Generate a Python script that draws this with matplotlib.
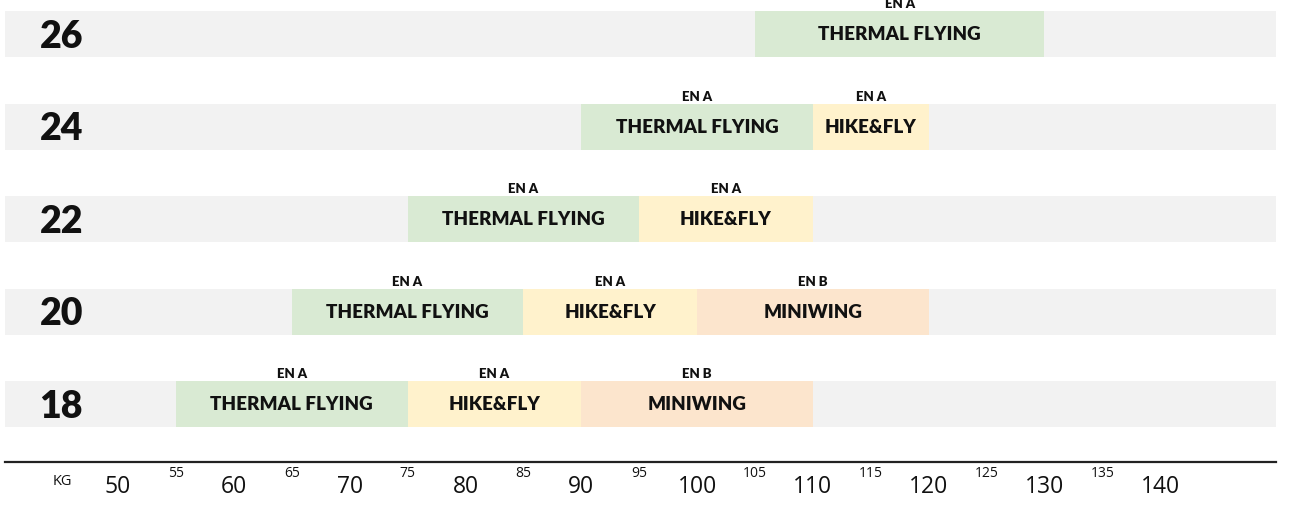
import matplotlib
matplotlib.use("Agg")
import matplotlib.pyplot as plt
from matplotlib.ticker import FixedLocator, FixedFormatter

# ---- data ----
sizes = ["18", "20", "22", "24", "26"]

thermal_start = [55, 65, 75, 90, 105]
thermal_end = [75, 85, 95, 110, 130]
thermal_rating = ["EN A", "EN A", "EN A", "EN A", "EN A"]

hike_rows = [0, 1, 2, 3]
hike_start = [75, 85, 95, 110]
hike_end = [90, 100, 110, 120]
hike_rating = ["EN A", "EN A", "EN A", "EN A"]

mini_rows = [0, 1]
mini_start = [90, 100]
mini_end = [110, 120]
mini_rating = ["EN B", "EN B"]

major_ticks = [50, 60, 70, 80, 90, 100, 110, 120, 130, 140]
minor_ticks = [55, 65, 75, 85, 95, 105, 115, 125, 135]
axis_unit = "KG"
range_min, range_max = 40.25, 150

# ---- style ----
GREY = "#f2f2f2"
GREEN = "#d9ead3"
YELLOW = "#fff2cc"
ORANGE = "#fce5cd"
INK = "#111111"
BOLD = ["Lato", "DejaVu Sans"]
REG = ["Open Sans", "DejaVu Sans"]

fig = plt.figure(figsize=(12.9, 5.17), dpi=100)
ax = fig.add_axes([0, 0, 1, 1])
ax.set_xlim(39.81, 151.2)
ax.set_ylim(-1.2216, 4.368)
ax.set_facecolor("white")

bar_h = 0.497
rows = list(range(len(sizes)))

# background bars
ax.barh(rows, [range_max - range_min] * len(rows), left=range_min,
        height=bar_h, color=GREY, linewidth=0, zorder=1)

def draw_group(rws, starts, ends, ratings, color, label):
    widths = [e - s for s, e in zip(starts, ends)]
    ax.barh(rws, widths, left=starts, height=bar_h, color=color,
            linewidth=0, zorder=2)
    for r, s, e, rt in zip(rws, starts, ends, ratings):
        c = (s + e) / 2
        ax.text(c, r - 0.01, label, ha="center", va="center",
                fontsize=13.5, fontweight="heavy", family=BOLD, color=INK, zorder=3)
        ax.text(c, r + 0.324, rt, ha="center", va="center",
                fontsize=9.5, fontweight="heavy", family=BOLD, color=INK, zorder=3)

draw_group(rows, thermal_start, thermal_end, thermal_rating, GREEN, "THERMAL FLYING")
draw_group(hike_rows, hike_start, hike_end, hike_rating, YELLOW, "HIKE&FLY")
draw_group(mini_rows, mini_start, mini_end, mini_rating, ORANGE, "MINIWING")

# size labels
for r, s in zip(rows, sizes):
    ax.text(45.1, r - 0.03, s, ha="center", va="center", fontsize=27,
            fontweight="heavy", family=BOLD, color=INK, zorder=3)

# axis
for sp in ["top", "left", "right"]:
    ax.spines[sp].set_visible(False)
ax.spines["bottom"].set_position(("data", -0.622))
ax.spines["bottom"].set_bounds(range_min, range_max)
ax.spines["bottom"].set_linewidth(1.6)
ax.spines["bottom"].set_color("#222222")
ax.spines["bottom"].set_zorder(4)
ax.set_yticks([])
ax.xaxis.set_major_locator(FixedLocator(major_ticks))
ax.xaxis.set_major_formatter(FixedFormatter([str(v) for v in major_ticks]))
ax.xaxis.set_minor_locator(FixedLocator(minor_ticks))
ax.xaxis.set_minor_formatter(FixedFormatter([str(v) for v in minor_ticks]))
ax.tick_params(axis="x", which="major", length=0, pad=9.5, labelsize=16.5, labelcolor=INK)
ax.tick_params(axis="x", which="minor", length=0, pad=3, labelsize=10, labelcolor=INK)
for lab in ax.get_xticklabels(which="both"):
    lab.set_family(REG)

ax.text(45.16, -0.833, axis_unit, ha="center", va="center", fontsize=10.5,
        family=REG, color=INK)

fig.savefig("out.png", dpi=100)
